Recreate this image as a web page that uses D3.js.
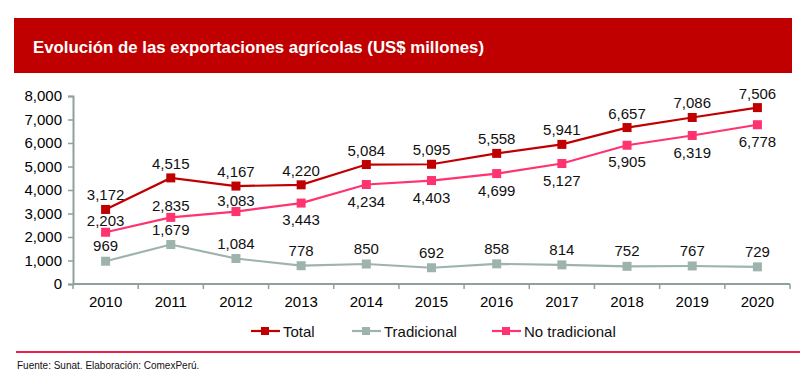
<!DOCTYPE html>
<html lang="es">
<head>
<meta charset="utf-8" />
<title>Exportaciones agrícolas</title>
<script src="https://cdn.jsdelivr.net/npm/d3@7"></script>
<style>
  body { margin: 0; background: #fff; font-family: "Liberation Sans", Arial, sans-serif; }
  .axis path, .axis line { stroke: #8ea19d; }
  .axis text { font-size: 15px; fill: #000; font-family: "Liberation Sans", Arial, sans-serif; }
  .lbl { font-size: 15px; fill: #111; text-anchor: middle; }
</style>
</head>
<body>
<div id="chart"></div>
<script>
  // data
  var years = ["2010","2011","2012","2013","2014","2015","2016","2017","2018","2019","2020"];
  var total = [3172, 4515, 4167, 4220, 5084, 5095, 5558, 5941, 6657, 7086, 7506];
  var tradicional = [969, 1679, 1084, 778, 850, 692, 858, 814, 752, 767, 729];
  var noTradicional = [2203, 2835, 3083, 3443, 4234, 4403, 4699, 5127, 5905, 6319, 6778];
  var yTicks = [0, 1000, 2000, 3000, 4000, 5000, 6000, 7000, 8000];
  var noTradLabelSide = ["up","up","up","down","down","down","down","down","down","down","down"];

  var width = 808, height = 388;

  var svg = d3.select("#chart").append("svg")
      .attr("width", width)
      .attr("height", height);

  // banner
  svg.append("rect")
      .attr("x", 14).attr("y", 18)
      .attr("width", 778).attr("height", 55)
      .attr("fill", "#c00000");
  svg.append("text")
      .attr("x", 33).attr("y", 53)
      .attr("fill", "#fff")
      .attr("font-size", 17)
      .attr("font-weight", "bold")
      .attr("textLength", 451)
      .attr("lengthAdjust", "spacingAndGlyphs")
      .text("Evolución de las exportaciones agrícolas (US$ millones)");

  var x = d3.scaleBand().domain(years).range([73, 790]).padding(0);
  var y = d3.scaleLinear().domain([0, 8000]).range([284, 96]);

  var xAxis = svg.append("g")
      .attr("class", "axis")
      .attr("transform", "translate(0,284)")
      .call(d3.axisBottom(x).tickSize(0).tickPadding(12));
  xAxis.select(".domain").remove();
  xAxis.append("line")
      .attr("x1", 73).attr("x2", 790)
      .attr("stroke", "#8ea19d").attr("stroke-width", 2);
  // ticks at category boundaries
  xAxis.selectAll(".bound")
    .data(years.concat(["end"]))
    .enter().append("line")
      .attr("x1", function(d, i) { return 73 + i * x.bandwidth(); })
      .attr("x2", function(d, i) { return 73 + i * x.bandwidth(); })
      .attr("y1", 0).attr("y2", 5)
      .attr("stroke", "#8ea19d").attr("stroke-width", 1.5);

  var yAxis = svg.append("g")
      .attr("class", "axis")
      .attr("transform", "translate(73,0)")
      .call(d3.axisLeft(y).tickValues(yTicks).tickSize(5).tickPadding(6).tickFormat(d3.format(",")));
  yAxis.select(".domain").attr("stroke-width", 2);
  yAxis.selectAll(".tick line").attr("stroke-width", 1.5);

  var series = [
    { name: "Total", values: total, color: "#c00000" },
    { name: "Tradicional", values: tradicional, color: "#9fb3ae" },
    { name: "No tradicional", values: noTradicional, color: "#ff3370" }
  ];

  var line = d3.line()
      .x(function(d, i) { return x(years[i]) + x.bandwidth() / 2; })
      .y(function(d) { return y(d); });

  series.forEach(function(s) {
    svg.append("path")
        .datum(s.values)
        .attr("fill", "none")
        .attr("stroke", s.color)
        .attr("stroke-width", 2.2)
        .attr("d", line);
    svg.selectAll(null)
        .data(s.values)
        .enter().append("rect")
        .attr("x", function(d, i) { return x(years[i]) + x.bandwidth() / 2 - 4.5; })
        .attr("y", function(d) { return y(d) - 4.5; })
        .attr("width", 9).attr("height", 9)
        .attr("fill", s.color);
  });

  var fmt = d3.format(",");
  svg.selectAll(null).data(total).enter().append("text")
      .attr("class", "lbl")
      .attr("x", function(d, i) { return x(years[i]) + x.bandwidth() / 2; })
      .attr("y", function(d) { return y(d) - 9; })
      .text(fmt);
  svg.selectAll(null).data(tradicional).enter().append("text")
      .attr("class", "lbl")
      .attr("x", function(d, i) { return x(years[i]) + x.bandwidth() / 2; })
      .attr("y", function(d) { return y(d) - 10; })
      .text(fmt);
  svg.selectAll(null).data(noTradicional).enter().append("text")
      .attr("class", "lbl")
      .attr("x", function(d, i) { return x(years[i]) + x.bandwidth() / 2; })
      .attr("y", function(d, i) { return noTradLabelSide[i] == "up" ? y(d) - 6 : y(d) + 22; })
      .text(fmt);

  // legend
  var legendX = [251, 352, 492];
  var leg = svg.selectAll(".leg").data(series).enter().append("g")
      .attr("transform", function(d, i) { return "translate(" + legendX[i] + ",331)"; });
  leg.append("line").attr("x1", 0).attr("x2", 29)
      .attr("stroke", function(d) { return d.color; }).attr("stroke-width", 2.2);
  leg.append("rect").attr("x", 10).attr("y", -4).attr("width", 8).attr("height", 8)
      .attr("fill", function(d) { return d.color; });
  leg.append("text").attr("x", 32).attr("y", 5.5)
      .attr("font-size", 15).attr("fill", "#111")
      .text(function(d) { return d.name; });

  // separator + source
  svg.append("line")
      .attr("x1", 16).attr("x2", 800).attr("y1", 352).attr("y2", 352)
      .attr("stroke", "#e4224c").attr("stroke-width", 2);
  svg.append("text")
      .attr("x", 17).attr("y", 369)
      .attr("font-size", 10).attr("fill", "#111")
      .text("Fuente: Sunat. Elaboración: ComexPerú.");
</script>
</body>
</html>
